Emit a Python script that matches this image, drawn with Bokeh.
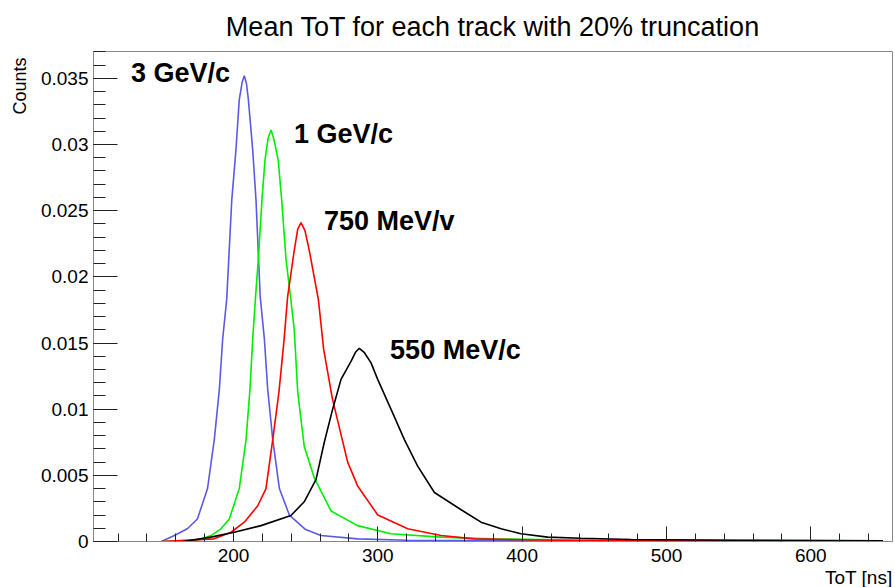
from bokeh.plotting import figure
from bokeh.models import Range1d, FixedTicker, Label, Title
from bokeh.embed import file_html
from bokeh.resources import INLINE

# ---- data (ToT [ns], Counts) ----
blue_x = [150, 159, 168, 175, 182, 186.7, 190.2, 192.5, 195.3, 198.8, 201.7, 204, 206, 207.5,
          209, 210.3, 213.3, 215.6, 218.5, 221.4, 223.7, 227.2, 231.8, 238.7, 250, 260.6, 286, 320, 400, 500, 650]
blue_y = [0, 0.00045, 0.00096, 0.0017, 0.004, 0.0077, 0.0115, 0.0153, 0.0183, 0.0258, 0.0296, 0.0334, 0.0347, 0.0352,
          0.0346, 0.0334, 0.0296, 0.0258, 0.0185, 0.0153, 0.0115, 0.0077, 0.004, 0.0020, 0.0009, 0.00045, 0.0002, 0.0001, 0.00005, 0.00002, 0]

green_x = [150, 175, 184.4, 191.3, 197.1, 204, 208.7, 211.4, 213.3, 215.6, 217.2, 219.7, 221.8, 224, 226,
           228, 231, 233.4, 236.4, 239.5, 242.1, 244.5, 249, 256, 267.6, 286, 309, 343.8, 378, 450, 650]
green_y = [0, 0.0001, 0.00045, 0.00096, 0.0017, 0.004, 0.0077, 0.0115, 0.0153, 0.019, 0.0213, 0.0258, 0.0288, 0.0305, 0.0311,
           0.0304, 0.0288, 0.0258, 0.0213, 0.0185, 0.016, 0.0113, 0.0072, 0.0048, 0.0023, 0.0012, 0.00058, 0.00033, 0.0002, 0.0001, 0.00005]

red_x = [150, 186.5, 198.3, 207.5, 216.8, 222.5, 227.2, 231.5, 235, 237.5, 242.1, 244.5, 246.8,
         249.5, 252.5, 258.8, 262.5, 268.5, 279.1, 286, 300, 320.7, 343.8, 366.7, 420, 650]
red_y = [0, 0.0002, 0.0007, 0.00146, 0.0027, 0.004, 0.0077, 0.0113, 0.0152, 0.0185, 0.022, 0.0236, 0.0241,
         0.0235, 0.022, 0.0183, 0.0145, 0.0108, 0.006, 0.0042, 0.002, 0.00096, 0.00045, 0.0002, 0.0001, 0.00003]

black_x = [165, 184.4, 200.5, 219.1, 239.8, 249, 257.2, 262.9, 268.7, 274.5, 281.5, 284.5, 287.2,
           290.5, 295.3, 299.9, 309.1, 318.4, 327.6, 339.2, 357.7, 371.5, 385.4, 399.2, 417.7, 440.8, 475.5, 550, 650]
black_y = [0, 0.00033, 0.0007, 0.0012, 0.00196, 0.003, 0.0047, 0.0075, 0.01, 0.01225, 0.01363, 0.0143, 0.0146,
           0.0143, 0.0135, 0.01225, 0.01, 0.0077, 0.0057, 0.0037, 0.0024, 0.00146, 0.00096, 0.00058, 0.00033, 0.00025, 0.00015, 0.0001, 0.00005]

labels = ["3 GeV/c", "1 GeV/c", "750 MeV/v", "550 MeV/c"]
label_x = [129, 241.9, 262.7, 308.5]
label_y = [0.03544, 0.03077, 0.02422, 0.01444]

x_major = [200, 300, 400, 500, 600]
x_minor = [120, 140, 160, 180, 220, 240, 260, 280, 320, 340, 360, 380, 420, 440, 460, 480,
           520, 540, 560, 580, 620, 640]
y_major = [0, 0.005, 0.01, 0.015, 0.02, 0.025, 0.03, 0.035]
y_major_text = ["0", "0.005", "0.01", "0.015", "0.02", "0.025", "0.03", "0.035"]
y_minor = [i / 1000 for i in range(0, 38)]

FONT = "Liberation Sans"

p = figure(width=895, height=587, output_backend="svg", toolbar_location=None,
           x_range=Range1d(103, 656.6), y_range=Range1d(0, 0.03703),
           min_border_left=93, min_border_right=3, min_border_top=51, min_border_bottom=44)
p.xgrid.visible = False
p.ygrid.visible = False
p.outline_line_color = "#888888"
p.outline_line_width = 1

for xs, ys, col in [(blue_x, blue_y, "#5a5ae6"), (green_x, green_y, "#00ee00"),
                    (red_x, red_y, "#ff0000"), (black_x, black_y, "#000000")]:
    p.line(xs, ys, line_color=col, line_width=1.6)

for xx, yy, tt in zip(label_x, label_y, labels):
    p.add_layout(Label(x=xx, y=yy, text=tt, text_font=FONT, text_font_size="27px",
                       text_font_style="bold", text_baseline="middle", text_align="left",
                       text_color="black"))

for ax in (p.xaxis[0], p.yaxis[0]):
    ax.axis_line_color = "#888888"
    ax.major_tick_line_color = "#222222"
    ax.minor_tick_line_color = "#222222"
    ax.major_tick_out = 0
    ax.minor_tick_out = 0
    ax.major_label_text_font = FONT
    ax.major_label_text_font_size = "19px"
    ax.major_label_text_color = "black"

p.xaxis.ticker = FixedTicker(ticks=x_major, minor_ticks=x_minor)
p.xaxis.major_tick_in = 15
p.xaxis.minor_tick_in = 8
p.xaxis.major_label_standoff = 7

p.yaxis.ticker = FixedTicker(ticks=y_major, minor_ticks=y_minor)
p.yaxis.major_tick_in = 24
p.yaxis.minor_tick_in = 12
p.yaxis.major_label_standoff = 5
p.yaxis.major_label_overrides = {v: t for v, t in zip(y_major, y_major_text)}

# title
p.title.text = "Mean ToT for each track with 20% truncation"
p.title.text_font = FONT
p.title.text_font_size = "27px"
p.title.text_font_style = "normal"
p.title.text_color = "black"
p.title.align = "center"
p.title.vertical_align = "top"
p.title.standoff = 16

# axis titles at the ends of the axes
p.add_layout(Title(text="Counts", align="right", vertical_align="top", text_font=FONT,
                   text_font_size="18px", text_font_style="normal", text_color="black",
                   offset=6, standoff=12), "left")
p.add_layout(Title(text="ToT [ns]", align="right", text_font=FONT, text_font_size="19px",
                   text_font_style="normal", text_color="black", offset=0, standoff=0), "below")

open("out.html", "w").write(file_html(p, INLINE))
